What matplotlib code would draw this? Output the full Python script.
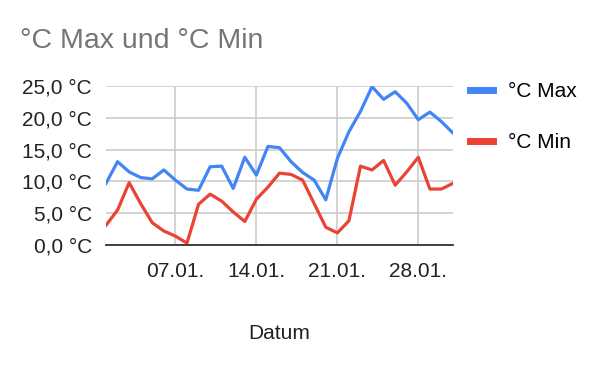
import matplotlib.pyplot as plt

plt.rcParams['font.family'] = ['Liberation Sans', 'DejaVu Sans']

days = list(range(1, 32))
t_max = [9.7, 13.1, 11.5, 10.6, 10.4, 11.8, 10.2, 8.8, 8.6, 12.3, 12.4, 8.9, 13.8, 11.0, 15.5, 15.3,
         13.1, 11.4, 10.2, 7.1, 13.6, 17.8, 21.0, 24.9, 22.9, 24.1, 22.3, 19.7, 20.9, 19.4, 17.6]
t_min = [3.1, 5.5, 9.8, 6.5, 3.5, 2.2, 1.4, 0.3, 6.4, 8.0, 6.9, 5.2, 3.7, 7.2, 9.1, 11.3,
         11.1, 10.2, 6.5, 2.8, 1.9, 3.8, 12.4, 11.8, 13.3, 9.4, 11.5, 13.8, 8.8, 8.8, 9.7]
tick_days = [7, 14, 21, 28]
tick_labels = ['07.01.', '14.01.', '21.01.', '28.01.']
y_ticks = [0, 5, 10, 15, 20, 25]

fig = plt.figure(figsize=(6, 3.71), dpi=100)
ax = fig.add_axes([106 / 600, 1 - 245 / 371, 347 / 600, 159 / 371])

ax.plot(days, t_max, color='#4285F4', lw=2.3, label='°C Max', solid_joinstyle='round')
ax.plot(days, t_min, color='#EA4335', lw=2.3, label='°C Min', solid_joinstyle='round')

ax.set_xlim(1, 31)
ax.set_ylim(0, 25)
ax.set_xticks(tick_days)
ax.set_xticklabels(tick_labels)
ax.set_yticks(y_ticks)
ax.set_yticklabels([f'{v:.1f}'.replace('.', ',') + ' °C' for v in y_ticks])
ax.grid(True, color='#cccccc', lw=1.2)
ax.set_axisbelow(True)
for s in ['top', 'right', 'left']:
    ax.spines[s].set_visible(False)
ax.spines['bottom'].set_color('#333333')
ax.spines['bottom'].set_linewidth(1.3)
ax.tick_params(length=0, labelsize=15, colors='#222222')
ax.tick_params(axis='y', pad=10)
ax.tick_params(axis='x', pad=12)

ax.set_xlabel('Datum', fontsize=15, color='#222222', labelpad=31)
fig.text(20 / 600, 1 - 41 / 371, '°C Max und °C Min', fontsize=20.5, color='#757575', va='center')

leg_handles = [plt.Line2D([], [], color='#4285F4', lw=5), plt.Line2D([], [], color='#EA4335', lw=5)]
fig.legend(leg_handles, ['°C Max', '°C Min'], loc='upper left', bbox_to_anchor=(470 / 600, 1 - 82 / 371),
           frameon=False, fontsize=15, handlelength=1.1, handletextpad=0.7, labelspacing=1.55,
           borderpad=0, borderaxespad=0)

fig.savefig('out.png', dpi=100)
